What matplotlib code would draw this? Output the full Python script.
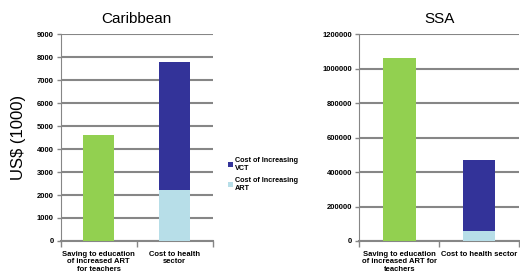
import matplotlib.pyplot as plt
from matplotlib.ticker import FuncFormatter

plt.rcParams['font.family'] = ['Liberation Sans', 'DejaVu Sans']

categorias_car = ['Saving to education\nof increased ART\nfor teachers', 'Cost to health\nsector']
categorias_ssa = ['Saving to education\nof increased ART for\nteachers', 'Cost to health sector']

ahorro_car = [4600, 0]
art_car = [0, 2200]
vct_car = [0, 5580]

ahorro_ssa = [1060000, 0]
art_ssa = [0, 58000]
vct_ssa = [0, 412000]

verde = '#92D050'
azul = '#333399'
celeste = '#B7DEE8'
gris = '#868686'


def dibujar(ax, cats, ahorro, art, vct, ymax, paso, titulo):
    x = range(len(cats))
    ax.bar(x, ahorro, width=0.41, color=verde, zorder=3)
    ax.bar(x, art, width=0.41, color=celeste, zorder=3, label='Cost of Increasing\nART')
    ax.bar(x, vct, width=0.41, bottom=art, color=azul, zorder=3, label='Cost of Increasing\nVCT')
    ax.set_xlim(-0.5, 1.5)
    ax.set_ylim(0, ymax)
    ax.set_yticks(range(0, ymax + 1, paso))
    ax.yaxis.set_major_formatter(FuncFormatter(lambda v, p: '%d' % v))
    ax.yaxis.grid(True, color=gris, linewidth=1.5, zorder=0)
    ax.set_xticks(list(x))
    ax.set_xticklabels(cats, fontsize=5.5, fontweight='bold', linespacing=1.1)
    ax.set_xticks([-0.5, 0.5, 1.5], minor=True)
    ax.tick_params(axis='x', which='major', length=0, pad=7)
    ax.tick_params(axis='x', which='minor', length=4, color=gris, width=1)
    ax.tick_params(axis='y', length=3, color=gris, width=1, labelsize=5.5, pad=2)
    for lab in ax.get_yticklabels():
        lab.set_fontweight('bold')
    for s in ['top', 'right']:
        ax.spines[s].set_visible(False)
    ax.spines['left'].set_color(gris)
    ax.spines['bottom'].set_color(gris)
    ax.spines['bottom'].set_linewidth(1.5)
    ax.set_title(titulo, fontsize=11, pad=8)


fig = plt.figure(figsize=(5.2, 2.77), dpi=100)
ax1 = fig.add_axes([0.117, 0.13, 0.292, 0.747])
ax2 = fig.add_axes([0.691, 0.13, 0.307, 0.747])

dibujar(ax1, categorias_car, ahorro_car, art_car, vct_car, 9000, 1000, 'Caribbean')
dibujar(ax2, categorias_ssa, ahorro_ssa, art_ssa, vct_ssa, 1200000, 200000, 'SSA')

ax1.set_ylabel('US$ (1000)', fontsize=12, labelpad=8)

h, l = ax1.get_legend_handles_labels()
fig.legend(h[::-1], l[::-1], loc='upper left', bbox_to_anchor=(0.425, 0.455),
           frameon=False, fontsize=5.2, handlelength=0.7, handleheight=0.7,
           handletextpad=0.3, labelspacing=0.6, prop={'weight': 'bold', 'size': 5.2})

plt.savefig('out.png', dpi=100)
